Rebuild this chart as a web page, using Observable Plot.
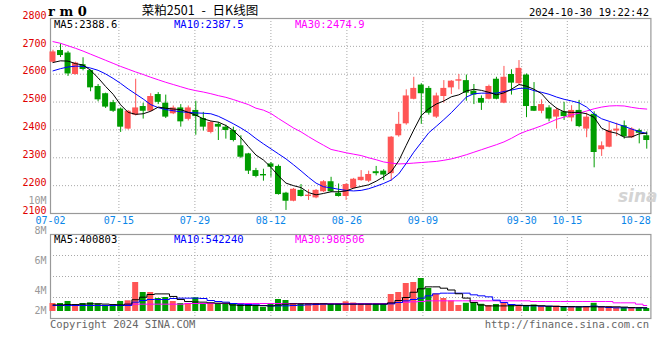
<!DOCTYPE html>
<html><head><meta charset="utf-8">
<script src="https://cdn.jsdelivr.net/npm/d3@7"></script>
<script src="https://cdn.jsdelivr.net/npm/@observablehq/plot@0.6"></script>
<style>
body{margin:0;background:#fff}
#chart{position:relative;width:660px;height:360px;overflow:hidden;background:#fff}
.t{position:absolute;white-space:nowrap;line-height:1;font-family:"DejaVu Sans Mono",monospace;font-size:10px;transform:translateY(-50%)}
</style></head><body><div id="chart"></div>
<script>
// ---------- data ----------
const dates = ["07-02","07-03","07-04","07-05","07-08","07-09","07-10","07-11","07-12","07-15","07-16","07-17","07-18","07-19","07-22","07-23","07-24","07-25","07-26","07-29","07-30","07-31",
"08-01","08-02","08-05","08-06","08-07","08-08","08-09","08-12","08-13","08-14","08-15","08-16","08-19","08-20","08-21","08-22","08-23","08-26","08-27","08-28","08-29","08-30",
"09-02","09-03","09-04","09-05","09-06","09-09","09-10","09-11","09-12","09-13","09-18","09-19","09-20","09-23","09-24","09-25","09-26","09-27","09-30",
"10-08","10-09","10-10","10-11","10-14","10-15","10-16","10-17","10-18","10-21","10-22","10-23","10-24","10-25","10-28","10-29","10-30"];
const tickDates = ["07-02","07-15","07-29","08-12","08-26","09-09","09-30","10-15","10-28"];
const gridDates = ["07-15","07-29","08-12","08-26","09-09","09-30","10-15"];
const priceTicks = [2100,2200,2300,2400,2500,2600,2700,2800];
const volTicks = [10,8,6,4,2]; // millions

const open = [2643,2685,2676,2599,2634,2613,2556,2530,2498,2475,2403,2453,2484,2467,2527,2496,2458,2479,2438,2470,
2441,2391,2420,2410,2398,2343,2314,2254,2240,2278,2269,2173,2144,2183,2161,2156,2178,2214,2173,2161,
2190,2218,2216,2250,2252,2243,2379,2422,2510,2561,2549,2446,2520,2551,2575,2577,2539,2513,2510,2582,
2496,2599,2566,2597,2484,2467,2479,2446,2465,2443,2470,2403,2456,2329,2338,2396,2415,2372,2398,2379];
const close = [2680,2667,2601,2640,2617,2551,2508,2482,2467,2410,2467,2479,2467,2520,2499,2446,2479,2429,2479,2448,
2410,2427,2410,2398,2362,2302,2252,2233,2235,2266,2168,2144,2187,2161,2166,2183,2214,2178,2161,2204,
2223,2230,2240,2243,2238,2374,2420,2522,2549,2530,2460,2522,2549,2575,2580,2532,2525,2496,2556,2510,
2589,2568,2621,2484,2467,2491,2439,2472,2448,2470,2412,2446,2319,2343,2398,2403,2376,2403,2388,2362];
const high = [2686,2709,2682,2643,2659,2615,2563,2532,2506,2479,2470,2582,2496,2530,2534,2525,2486,2491,2486,2503,
2463,2431,2427,2417,2410,2379,2316,2262,2259,2283,2274,2176,2190,2204,2185,2186,2218,2230,2206,2207,
2226,2254,2252,2269,2257,2376,2463,2544,2589,2566,2556,2532,2577,2577,2599,2597,2563,2522,2561,2589,
2628,2616,2649,2601,2570,2508,2487,2479,2499,2487,2506,2460,2465,2357,2427,2424,2432,2408,2403,2393];
const low = [2640,2660,2592,2597,2612,2537,2501,2477,2463,2391,2400,2450,2439,2464,2491,2441,2455,2410,2432,2381,
2396,2386,2362,2367,2357,2297,2240,2228,2216,2230,2166,2111,2142,2159,2147,2153,2175,2175,2159,2147,
2187,2216,2211,2235,2218,2216,2374,2417,2508,2420,2453,2441,2496,2527,2544,2503,2491,2470,2508,2508,
2494,2525,2563,2444,2466,2458,2429,2403,2434,2429,2408,2372,2264,2305,2336,2376,2367,2369,2350,2331];

const ma5 = [2642,2648,2647,2638,2633,2614,2587,2556,2528,2490,2463,2456,2458,2467,2482,2478,2475,2473,2463,2453,
2440,2432,2428,2416,2398,2372,2340,2310,2292,2266,2235,2209,2200,2193,2175,2167,2172,2178,2178,2181,
2191,2197,2203,2216,2232,2250,2289,2345,2400,2452,2476,2493,2504,2519,2526,2540,2546,2542,2535,2526,
2533,2546,2563,2557,2546,2530,2500,2478,2465,2463,2463,2458,2445,2406,2394,2388,2374,2375,2386,2388.6];
const ma10 = [2612,2620,2626,2629,2628,2622,2614,2601,2585,2567,2547,2529,2511,2491,2480,2473,2469,2465,2463,2461,
2460,2458,2449,2436,2422,2407,2390,2369,2350,2332,2314,2296,2275,2253,2230,2209,2196,2192,2187,2183,
2181,2183,2189,2198,2208,2220,2242,2280,2320,2355,2390,2413,2437,2462,2490,2518,2530,2532,2532,2532,
2538,2543,2549,2550,2541,2535,2528,2518,2510,2504,2497,2482,2457,2440,2431,2422,2413,2403,2394,2387.5];
const ma30 = [2717,2711,2702,2693,2683,2672,2661,2650,2639,2628,2618,2608,2599,2589,2580,2571,2563,2555,2547,2541,
2536,2530,2523,2517,2509,2500,2491,2478,2471,2459,2441,2424,2407,2393,2376,2360,2345,2330,2324,2318,
2313,2308,2300,2293,2285,2281,2278,2279,2281,2283,2285,2287,2291,2296,2303,2311,2320,2329,2338,2347,
2357,2370,2385,2396,2405,2415,2426,2438,2446,2454,2460,2468,2476,2482,2486,2487,2486,2481,2477,2474.9];

// volume, millions of lots as read against the volume axis
const volume = [3.200,3.200,3.333,3.067,3.200,3.247,3.167,3.067,3.067,3.333,3.380,4.600,3.933,3.933,3.533,3.600,3.333,3.200,3.200,3.580,
3.200,3.167,3.167,3.167,3.167,3.167,3.167,3.033,2.933,3.180,3.467,3.400,3.180,3.180,3.180,3.180,3.180,3.200,3.200,3.313,
3.233,3.153,3.133,3.133,3.167,3.800,3.933,4.533,4.600,4.867,4.200,3.833,3.533,3.367,3.067,3.213,3.247,3.147,3.067,3.133,
3.200,3.133,3.067,3.067,3.100,3.020,3.000,3.033,2.947,2.967,2.967,2.980,3.213,2.987,2.987,2.913,2.913,2.913,2.867,2.867];
const volMa5 = [3.11,3.11,3.13,3.13,3.16,3.18,3.18,3.16,3.13,3.11,3.16,3.45,3.62,3.80,3.84,3.84,3.67,3.47,3.33,3.30,
3.29,3.25,3.22,3.22,3.10,3.07,3.07,3.07,3.05,3.04,3.10,3.16,3.18,3.18,3.18,3.18,3.18,3.16,3.16,3.16,
3.16,3.16,3.16,3.16,3.16,3.24,3.40,3.60,3.95,4.18,4.31,4.31,4.22,4.10,3.85,3.56,3.27,3.10,3.04,3.04,
3.04,3.05,3.07,3.07,3.07,3.05,3.02,3.01,3.00,2.99,2.98,2.98,2.98,2.98,2.98,2.98,2.96,2.93,2.92,2.91];
const volMa10 = [3.067,3.067,3.067,3.067,3.067,3.067,3.067,3.067,3.067,3.067,3.067,3.289,3.400,3.467,3.467,3.467,3.533,3.556,3.556,3.556,
3.533,3.400,3.333,3.289,3.200,3.156,3.133,3.111,3.067,3.044,3.044,3.044,3.067,3.089,3.111,3.133,3.156,3.156,3.156,3.156,
3.156,3.156,3.156,3.156,3.156,3.178,3.267,3.378,3.467,3.556,3.711,3.844,3.889,3.889,3.889,3.889,3.778,3.711,3.644,3.422,
3.267,3.133,3.089,3.044,3.044,3.022,3.022,3.000,2.978,2.978,2.978,3.000,3.022,2.978,2.933,2.911,2.911,2.911,2.911,2.911];
const volMa30 = [3.067,3.067,3.067,3.067,3.067,3.067,3.067,3.067,3.067,3.067,3.156,3.156,3.156,3.156,3.156,3.156,3.156,3.156,3.200,3.200,
3.200,3.200,3.200,3.200,3.200,3.200,3.200,3.200,3.200,3.200,3.200,3.200,3.200,3.200,3.200,3.200,3.200,3.200,3.200,3.200,
3.200,3.200,3.200,3.200,3.200,3.222,3.267,3.289,3.311,3.333,3.378,3.378,3.378,3.378,3.378,3.378,3.378,3.378,3.378,3.378,
3.378,3.378,3.378,3.378,3.333,3.333,3.333,3.333,3.333,3.333,3.333,3.333,3.333,3.333,3.333,3.244,3.244,3.244,3.156,3.067];
const volBase = 2.667;      // lowest volume level drawn (bar floor)
const volDomain = [2.2, 7.8];
const priceDomain = [2100, 2800];

// ---------- styles ----------
const RED = "#ff5555", GREEN = "#009c00";
const MONO = "DejaVu Sans Mono, monospace";
const svgStyle = "position:absolute;left:0;top:0;overflow:visible;background:transparent;max-width:none;";
const grid = {stroke: "#a8a8a8", strokeDasharray: "1,2", strokeWidth: 1};

const bars = dates.map((d, i) => ({
  i, date: d, open: open[i], close: close[i], high: high[i], low: low[i],
  ma5: ma5[i], ma10: ma10[i], ma30: ma30[i],
  vol: volume[i], vma5: volMa5[i], vma10: volMa10[i], vma30: volMa30[i],
  color: close[i] >= open[i] ? RED : GREEN
}));

const chart = document.getElementById("chart");
const gridIdx = gridDates.map(d => dates.indexOf(d));

const gridX = {domain: [0, dates.length - 1], axis: null};
const candleX = {domain: [0, dates.length], axis: null};
const candleMargins = {marginLeft: 48.74, marginRight: 9.98};
const gridMargins = {marginLeft: 50, marginRight: 9.6};

const pGrid = Plot.plot({
  width: 660, height: 232, marginTop: 18, marginBottom: 19, ...gridMargins,
  x: gridX, y: {domain: priceDomain, axis: null}, style: svgStyle,
  marks: [
    Plot.ruleY(priceTicks.slice(1, -1), grid),
    Plot.ruleX(gridIdx, grid),
    Plot.frame({stroke: "#999", strokeWidth: 1.2}),
    Plot.text(priceTicks, {y: d => d, text: d => String(d), frameAnchor: "left", textAnchor: "end", dx: -4, dy: -3,
      fill: "#e00000", fontFamily: MONO, fontSize: 10}),
    Plot.text(tickDates, {x: d => dates.indexOf(d), text: d => d, frameAnchor: "bottom", dy: 10.5,
      fill: "#0a86e8", fontFamily: MONO, fontSize: 10})
  ]
});

const pCandle = Plot.plot({
  width: 660, height: 232, marginTop: 18, marginBottom: 19, ...candleMargins,
  x: candleX, y: {domain: priceDomain, axis: null}, style: svgStyle,
  marks: [
    Plot.ruleX(bars, {x: d => d.i + 0.5, y1: "low", y2: "high", stroke: "color", strokeWidth: 1}),
    Plot.rect(bars, {x1: "i", x2: d => d.i + 1, y1: "open", y2: "close", fill: "color", insetLeft: 0.758, insetRight: 0.758}),
    Plot.line(bars, {x: d => d.i + 0.5, y: "ma30", stroke: "#ff00ff", strokeWidth: 1}),
    Plot.line(bars, {x: d => d.i + 0.5, y: "ma10", stroke: "#0000ff", strokeWidth: 1}),
    Plot.line(bars, {x: d => d.i + 0.5, y: "ma5", stroke: "#000", strokeWidth: 1})
  ]
});

const vGrid = Plot.plot({
  width: 660, height: 330, marginTop: 234, marginBottom: 12, ...gridMargins,
  x: gridX, y: {domain: volDomain, axis: null}, style: svgStyle,
  marks: [
    Plot.ruleY(d3.range(1, 4).map(k => volDomain[0] + k * (volDomain[1] - volDomain[0]) / 4), grid),
    Plot.ruleX(gridIdx, grid),
    Plot.frame({stroke: "#999", strokeWidth: 1.2}),
    Plot.text(volTicks, {y: d => Math.max(d, volBase), text: d => d + "M", frameAnchor: "left", textAnchor: "end", dx: -4, dy: -1,
      fill: "#999", fontFamily: MONO, fontSize: 10})
  ]
});

const vData = Plot.plot({
  width: 660, height: 330, marginTop: 234, marginBottom: 12, ...candleMargins,
  x: candleX, y: {domain: volDomain, axis: null}, style: svgStyle,
  marks: [
    Plot.rect(bars, {x1: "i", x2: d => d.i + 1, y1: volBase, y2: "vol", fill: "color", insetLeft: 0.758, insetRight: 0.758}),
    Plot.line(bars, {x: d => d.i + 0.5, y: "vma30", stroke: "#ff00ff", strokeWidth: 1, curve: "step"}),
    Plot.line(bars, {x: d => d.i + 0.5, y: "vma10", stroke: "#0000ff", strokeWidth: 1, curve: "step"}),
    Plot.line(bars, {x: d => d.i + 0.5, y: "vma5", stroke: "#000", strokeWidth: 1, curve: "step"})
  ]
});

[pGrid, pCandle, vGrid, vData].forEach(s => chart.appendChild(s));

// ---------- texts ----------
function label(txt, x, y, opts = {}) {
  const el = document.createElement("div");
  el.className = "t";
  el.textContent = txt;
  el.style.top = y + "px";
  if (opts.right != null) el.style.right = opts.right + "px"; else el.style.left = x + "px";
  if (opts.center) { el.style.left = x + "px"; el.style.transform = "translate(-50%,-50%)"; }
  Object.assign(el.style, opts.css || {});
  chart.appendChild(el);
}
const last = bars[bars.length - 1];
label("r m 0", 48, 11, {css: {fontFamily: "DejaVu Serif, serif", fontWeight: "bold", fontSize: "13px"}});
label("菜粕2501 - 日K线图", 200, 9.5, {center: true, css: {fontFamily: "Noto Sans CJK SC, sans-serif", fontSize: "12.5px", color: "#000", wordSpacing: "4px"}});
label("2024-10-30 19:22:42", 0, 12, {right: 11, css: {fontSize: "10.5px"}});
label("MA5:" + last.ma5.toFixed(1), 54, 24, {css: {color: "#000", fontSize: "10.5px"}});
label("MA10:" + last.ma10.toFixed(1), 174, 24, {css: {color: "#0000ff", fontSize: "10.5px"}});
label("MA30:" + last.ma30.toFixed(1), 295, 24, {css: {color: "#ff00ff", fontSize: "10.5px"}});
label("MA5:400803", 54, 239, {css: {color: "#000", fontSize: "10.5px"}});
label("MA10:542240", 174, 239, {css: {color: "#0000ff", fontSize: "10.5px"}});
label("MA30:980506", 295, 239, {css: {color: "#ff00ff", fontSize: "10.5px"}});
label("Copyright 2024 SINA.COM", 50, 324, {css: {color: "#666", fontSize: "10.5px"}});
label("http://finance.sina.com.cn", 0, 324, {right: 11, css: {color: "#666", fontSize: "10.5px"}});
label("sina", 618, 196, {css: {fontFamily: "DejaVu Sans, sans-serif", fontStyle: "italic", fontWeight: "bold", fontSize: "17px", color: "#d4d4d4"}});
</script></body></html>
